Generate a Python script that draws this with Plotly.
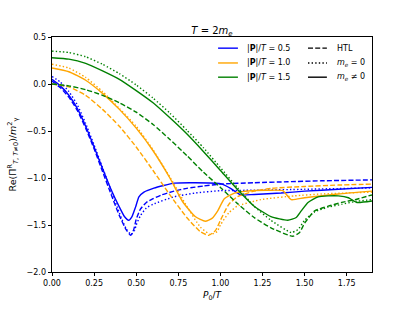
import plotly.graph_objects as go

# ---------------- data ----------------
# |P|/T = 0.5
b_sol_x = [0, 0.05, 0.1, 0.15, 0.2, 0.25, 0.3, 0.35, 0.4, 0.43, 0.455, 0.475, 0.496, 0.516, 0.546, 0.605, 0.725, 0.85, 1.0, 1.06, 1.12, 1.2, 1.36, 1.5, 1.7, 1.9]
b_sol_y = [0.05, -0.02, -0.12, -0.26, -0.45, -0.67, -0.9, -1.12, -1.31, -1.41, -1.45, -1.41, -1.31, -1.2, -1.15, -1.107, -1.055, -1.05, -1.06, -1.11, -1.18, -1.175, -1.16, -1.14, -1.12, -1.10]
b_htl_x = [0, 0.05, 0.1, 0.15, 0.2, 0.25, 0.3, 0.35, 0.4, 0.44, 0.467, 0.485, 0.5, 0.525, 0.56, 0.6, 0.65, 0.725, 0.8, 0.9, 1.0, 1.2, 1.4, 1.6, 1.9]
b_htl_y = [0.03, -0.04, -0.14, -0.28, -0.47, -0.69, -0.93, -1.17, -1.4, -1.55, -1.61, -1.55, -1.44, -1.33, -1.26, -1.22, -1.18, -1.14, -1.11, -1.085, -1.065, -1.05, -1.04, -1.03, -1.02]
b_m0_x = [0, 0.05, 0.1, 0.15, 0.2, 0.25, 0.3, 0.35, 0.4, 0.44, 0.47, 0.49, 0.5, 0.525, 0.56, 0.6, 0.725, 0.85, 1.0, 1.2, 1.5, 1.9]
b_m0_y = [0.08, 0.02, -0.08, -0.22, -0.42, -0.65, -0.89, -1.13, -1.37, -1.54, -1.6, -1.56, -1.5, -1.4, -1.32, -1.28, -1.2, -1.16, -1.135, -1.13, -1.12, -1.105]

# |P|/T = 1.0
o_sol_x = [0, 0.1, 0.2, 0.3, 0.4, 0.5, 0.6, 0.7, 0.775, 0.85, 0.91, 0.95, 0.984, 1.023, 1.083, 1.183, 1.29, 1.37, 1.42, 1.5, 1.7, 1.9]
o_sol_y = [0.17, 0.13, 0.04, -0.1, -0.27, -0.47, -0.71, -1.0, -1.25, -1.41, -1.46, -1.43, -1.35, -1.22, -1.16, -1.135, -1.13, -1.135, -1.23, -1.21, -1.17, -1.14]
o_htl_x = [0, 0.1, 0.2, 0.3, 0.4, 0.5, 0.6, 0.7, 0.8, 0.88, 0.93, 0.97, 1.0, 1.05, 1.1, 1.2, 1.3, 1.5, 1.7, 1.9]
o_htl_y = [0.0, -0.03, -0.12, -0.27, -0.45, -0.67, -0.92, -1.18, -1.42, -1.57, -1.61, -1.56, -1.45, -1.28, -1.2, -1.14, -1.11, -1.09, -1.075, -1.065]
o_m0_x = [0, 0.1, 0.2, 0.3, 0.4, 0.5, 0.6, 0.7, 0.8, 0.88, 0.94, 0.98, 1.0, 1.05, 1.1, 1.24, 1.44, 1.6, 1.9]
o_m0_y = [0.21, 0.17, 0.07, -0.08, -0.26, -0.45, -0.7, -0.99, -1.3, -1.52, -1.6, -1.57, -1.5, -1.37, -1.3, -1.23, -1.19, -1.17, -1.15]

# |P|/T = 1.5
g_sol_x = [0, 0.1, 0.2, 0.3, 0.4, 0.5, 0.6, 0.7, 0.8, 0.9, 1.0, 1.1, 1.2, 1.3, 1.4, 1.45, 1.48, 1.52, 1.58, 1.64, 1.7, 1.76, 1.81, 1.9]
g_sol_y = [0.28, 0.265, 0.22, 0.14, 0.05, -0.07, -0.2, -0.36, -0.53, -0.72, -0.92, -1.12, -1.3, -1.41, -1.45, -1.42, -1.35, -1.26, -1.2, -1.19, -1.19, -1.21, -1.26, -1.245]
g_htl_x = [0, 0.1, 0.2, 0.3, 0.4, 0.5, 0.6, 0.7, 0.8, 0.9, 1.0, 1.1, 1.2, 1.3, 1.43, 1.47, 1.5, 1.56, 1.64, 1.72, 1.8, 1.9]
g_htl_y = [0.0, -0.02, -0.06, -0.12, -0.2, -0.3, -0.43, -0.59, -0.76, -0.94, -1.1, -1.27, -1.42, -1.53, -1.62, -1.58, -1.48, -1.35, -1.3, -1.26, -1.23, -1.18]
g_m0_x = [0, 0.1, 0.2, 0.3, 0.4, 0.5, 0.6, 0.7, 0.8, 0.9, 1.0, 1.1, 1.2, 1.3, 1.42, 1.46, 1.5, 1.56, 1.64, 1.72, 1.8, 1.9]
g_m0_y = [0.35, 0.335, 0.29, 0.21, 0.11, -0.01, -0.15, -0.31, -0.49, -0.68, -0.89, -1.1, -1.3, -1.45, -1.58, -1.55, -1.45, -1.36, -1.31, -1.28, -1.25, -1.23]

x_ticks = [0, 0.25, 0.5, 0.75, 1.0, 1.25, 1.5, 1.75]
y_ticks = [0.5, 0.0, -0.5, -1.0, -1.5, -2.0]

colors = {"b": "#0000ff", "o": "#ffa500", "g": "#008000"}
labels = {"b": "|<b>P</b>|/<i>T</i> = 0.5", "o": "|<b>P</b>|/<i>T</i> = 1.0", "g": "|<b>P</b>|/<i>T</i> = 1.5"}
style_labels = ["HTL", "<i>m<sub>e</sub></i> = 0", "<i>m<sub>e</sub></i> ≠ 0"]
LW = 1.4
DASH = "5px,2.2px"
DOT = "1.4px,2.2px"

series = [
    ("b", b_htl_x, b_htl_y, DASH), ("b", b_m0_x, b_m0_y, DOT), ("b", b_sol_x, b_sol_y, "solid"),
    ("o", o_htl_x, o_htl_y, DASH), ("o", o_m0_x, o_m0_y, DOT), ("o", o_sol_x, o_sol_y, "solid"),
    ("g", g_htl_x, g_htl_y, DASH), ("g", g_m0_x, g_m0_y, DOT), ("g", g_sol_x, g_sol_y, "solid"),
]

fig = go.Figure()
for key, xs, ys, dash in series:
    fig.add_trace(go.Scatter(x=xs, y=ys, mode="lines", showlegend=False, hoverinfo="skip",
                             line=dict(color=colors[key], width=LW, dash=dash, shape="spline", smoothing=0.5)))

# ---- legend (two columns, drawn as keys + labels in paper coordinates) ----
row_y = [0.9525, 0.8895, 0.829]
for i, key in enumerate(["b", "o", "g"]):
    fig.add_shape(type="line", xref="paper", yref="paper", x0=0.519, x1=0.581, y0=row_y[i], y1=row_y[i],
                  line=dict(color=colors[key], width=LW))
    fig.add_annotation(xref="paper", yref="paper", x=0.603, y=row_y[i], text=labels[key], showarrow=False,
                       xanchor="left", yanchor="middle", font=dict(size=8))
for i, dash in enumerate([DASH, DOT, "solid"]):
    fig.add_shape(type="line", xref="paper", yref="paper", x0=0.80, x1=0.859, y0=row_y[i], y1=row_y[i],
                  line=dict(color="black", width=LW, dash=dash))
    fig.add_annotation(xref="paper", yref="paper", x=0.884, y=row_y[i], text=style_labels[i], showarrow=False,
                       xanchor="left", yanchor="middle", font=dict(size=8))

font = "DejaVu Sans, Verdana, sans-serif"
fig.update_layout(
    width=413, height=310,
    margin=dict(l=52, r=41, t=37, b=35),
    paper_bgcolor="white", plot_bgcolor="white",
    showlegend=False,
    font=dict(family=font, size=8, color="black"),
    title=dict(text="<i>T</i> = 2<i>m<sub>e</sub></i>", x=0.5, xref="paper", xanchor="center",
               y=1.0, yref="paper", yanchor="bottom", pad=dict(b=3), font=dict(size=10)),
    xaxis=dict(range=[0, 1.9], tickvals=x_ticks, tickformat=".2f", ticks="outside", ticklen=3.5,
               tickwidth=0.8, tickcolor="black", showline=True, linecolor="black", linewidth=0.8,
               mirror=True, showgrid=False, zeroline=False,
               title=dict(text="<i>P</i><sub>0</sub>/<i>T</i>", font=dict(size=9), standoff=4)),
    yaxis=dict(range=[-2.0, 0.5], tickvals=y_ticks, tickformat=".1f", ticks="outside", ticklen=3.5,
               tickwidth=0.8, tickcolor="black", showline=True, linecolor="black", linewidth=0.8,
               mirror=True, showgrid=False, zeroline=False, automargin=False,
               title=dict(text="Re(Π<sup>R</sup><sub><i>T</i>, <i>T</i>≠0</sub>)/<i>m</i><sup>2</sup><sub>γ</sub>",
                          font=dict(size=9.5), standoff=8)),
)

fig.write_html("out.html", config={"displayModeBar": False},
               post_script="document.body.style.margin='0';document.body.style.overflow='hidden';")
